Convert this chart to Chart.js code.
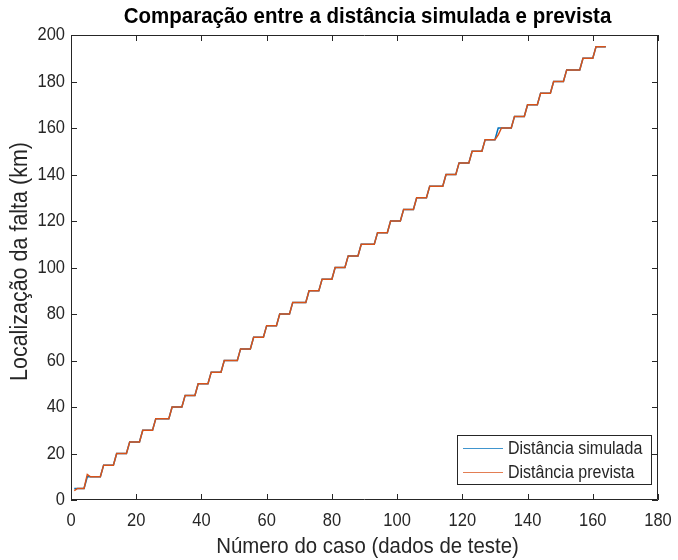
<!DOCTYPE html>
<html><head><meta charset="utf-8">
<script src="https://cdn.jsdelivr.net/npm/chart.js@4/dist/chart.umd.min.js"></script>
<style>html,body{margin:0;padding:0;background:#fff}#wrap{width:678px;height:560px}</style>
</head><body><div id="wrap"><canvas id="c" width="678" height="560"></canvas></div>
<script>
// Distance levels (km) and how many test cases sit at each level
const levels = [5,10,15,20,25,30,35,40,45,50,55,60,65,70,75,80,85,90,95,100,105,110,115,120,125,130,135,140,145,150,155,160,165,170,175,180,185,190,195];
const counts = [4,5,4,4,4, 4,5,4,4,4, 4,5,4,4,4, 4,5,4,4,4, 4,5,4,4,4, 4,5,4,4,4, 4,5,4,4,4, 4,5,4,4];
// Cases where the prediction differs from the simulated distance: [case, km]
const predictedChanges = [[1,4],[5,11],[131,157]];
const xTickValues = [0,20,40,60,80,100,120,140,160,180];
const yTickValues = [0,20,40,60,80,100,120,140,160,180,200];
const titleText = 'Comparação entre a distância simulada e prevista';
const xTitle = 'Número do caso (dados de teste)';
const yTitle = 'Localização da falta (km)';
const seriesNames = ['Distância simulada','Distância prevista'];
const seriesColors = ['#0072BD','#D95319'];

const simulated = [];
levels.forEach((lv,i)=>{ for(let k=0;k<counts[i];k++) simulated.push({x: simulated.length+1, y: lv}); });
const predicted = simulated.map(p=>({x:p.x,y:p.y}));
predictedChanges.forEach(([cx,v])=>{ predicted[cx-1].y = v; });

const FONT = '"Liberation Sans", Arial, Helvetica, sans-serif';
const INK = '#262626';

function txt(ctx, s, x, y, font, align, sy, rot){
  ctx.save();
  ctx.translate(x,y);
  if(rot) ctx.rotate(rot);
  ctx.scale(1, sy);
  ctx.font = font; ctx.textAlign = align; ctx.textBaseline = 'middle';
  ctx.fillText(s,0,0);
  ctx.restore();
}

const decor = {
  id:'decor',
  afterDraw(chart){
    const {ctx, chartArea:a, scales:{x, y}} = chart;
    ctx.save();
    ctx.strokeStyle = INK; ctx.lineWidth = 1;
    ctx.beginPath();
    ctx.rect(a.left+0.5, a.top+0.5, a.right-a.left-1, a.bottom-a.top-1);
    ctx.stroke();
    const tl = 6;
    ctx.beginPath();
    x.ticks.forEach(t=>{ const px = Math.round(x.getPixelForValue(t.value))+0.5;
      ctx.moveTo(px,a.bottom); ctx.lineTo(px,a.bottom-tl);
      ctx.moveTo(px,a.top); ctx.lineTo(px,a.top+tl); });
    y.ticks.forEach(t=>{ const py = Math.round(y.getPixelForValue(t.value))+0.5;
      ctx.moveTo(a.left,py); ctx.lineTo(a.left+tl,py);
      ctx.moveTo(a.right,py); ctx.lineTo(a.right-tl,py); });
    ctx.stroke();
    // tick labels
    ctx.fillStyle = INK;
    const tf = '16.5px '+FONT;
    x.ticks.forEach(t=>{ txt(ctx, String(t.value), x.getPixelForValue(t.value), a.bottom+21, tf, 'center', 1.15); });
    y.ticks.forEach(t=>{ txt(ctx, String(t.value), a.left-6, y.getPixelForValue(t.value), tf, 'right', 1.15); });
    // title
    ctx.fillStyle = '#000';
    txt(ctx, titleText, (a.left+a.right)/2+3, 17, 'bold 20.5px '+FONT, 'center', 1.1);
    // axis titles
    ctx.fillStyle = INK;
    txt(ctx, xTitle, (a.left+a.right)/2+3, 547, '20.4px '+FONT, 'center', 1.1);
    txt(ctx, yTitle, 20, (a.top+a.bottom)/2-6, '21.5px '+FONT, 'center', 1.1, -Math.PI/2);
    // legend
    const lx=457, ly=435, lw=194, lh=49;
    ctx.fillStyle='#fff'; ctx.fillRect(lx,ly,lw,lh);
    ctx.strokeStyle=INK; ctx.lineWidth=1;
    ctx.strokeRect(lx+0.5,ly+0.5,lw,lh);
    chart.data.datasets.forEach((ds,i)=>{
      const yy = ly+13+i*24;
      ctx.strokeStyle=ds.borderColor; ctx.lineWidth=1.2;
      ctx.globalAlpha=0.75;
      ctx.beginPath(); ctx.moveTo(lx+6,yy+0.5); ctx.lineTo(lx+46,yy+0.5); ctx.stroke();
      ctx.globalAlpha=1;
      ctx.fillStyle=INK; txt(ctx, ds.label, lx+51, yy+1, '16px '+FONT, 'left', 1.1);
    });
    ctx.restore();
  }
};

new Chart(document.getElementById('c'),{
  type:'line',
  data:{datasets:[
    {label:seriesNames[0], data:simulated, borderColor:seriesColors[0], borderWidth:1.5, pointRadius:0, tension:0, fill:false, order:2},
    {label:seriesNames[1], data:predicted, borderColor:seriesColors[1], borderWidth:1.5, pointRadius:0, tension:0, fill:false, order:1}
  ]},
  options:{
    responsive:false, animation:false, devicePixelRatio:1,
    layout:{padding:{top:35,right:20,left:0,bottom:0}},
    plugins:{legend:{display:false}, title:{display:false}, tooltip:{enabled:false}},
    scales:{
      x:{type:'linear', min:0, max:180,
        afterBuildTicks:s=>{ s.ticks = xTickValues.map(v=>({value:v})); },
        afterFit:s=>{ s.height=60; },
        grid:{display:false, drawTicks:false},
        border:{display:false},
        ticks:{display:false}},
      y:{type:'linear', min:0, max:200,
        afterBuildTicks:s=>{ s.ticks = yTickValues.map(v=>({value:v})); },
        afterFit:s=>{ s.width=71; },
        grid:{display:false, drawTicks:false},
        border:{display:false},
        ticks:{display:false}}
    }
  },
  plugins:[decor]
});
</script>
</body></html>
